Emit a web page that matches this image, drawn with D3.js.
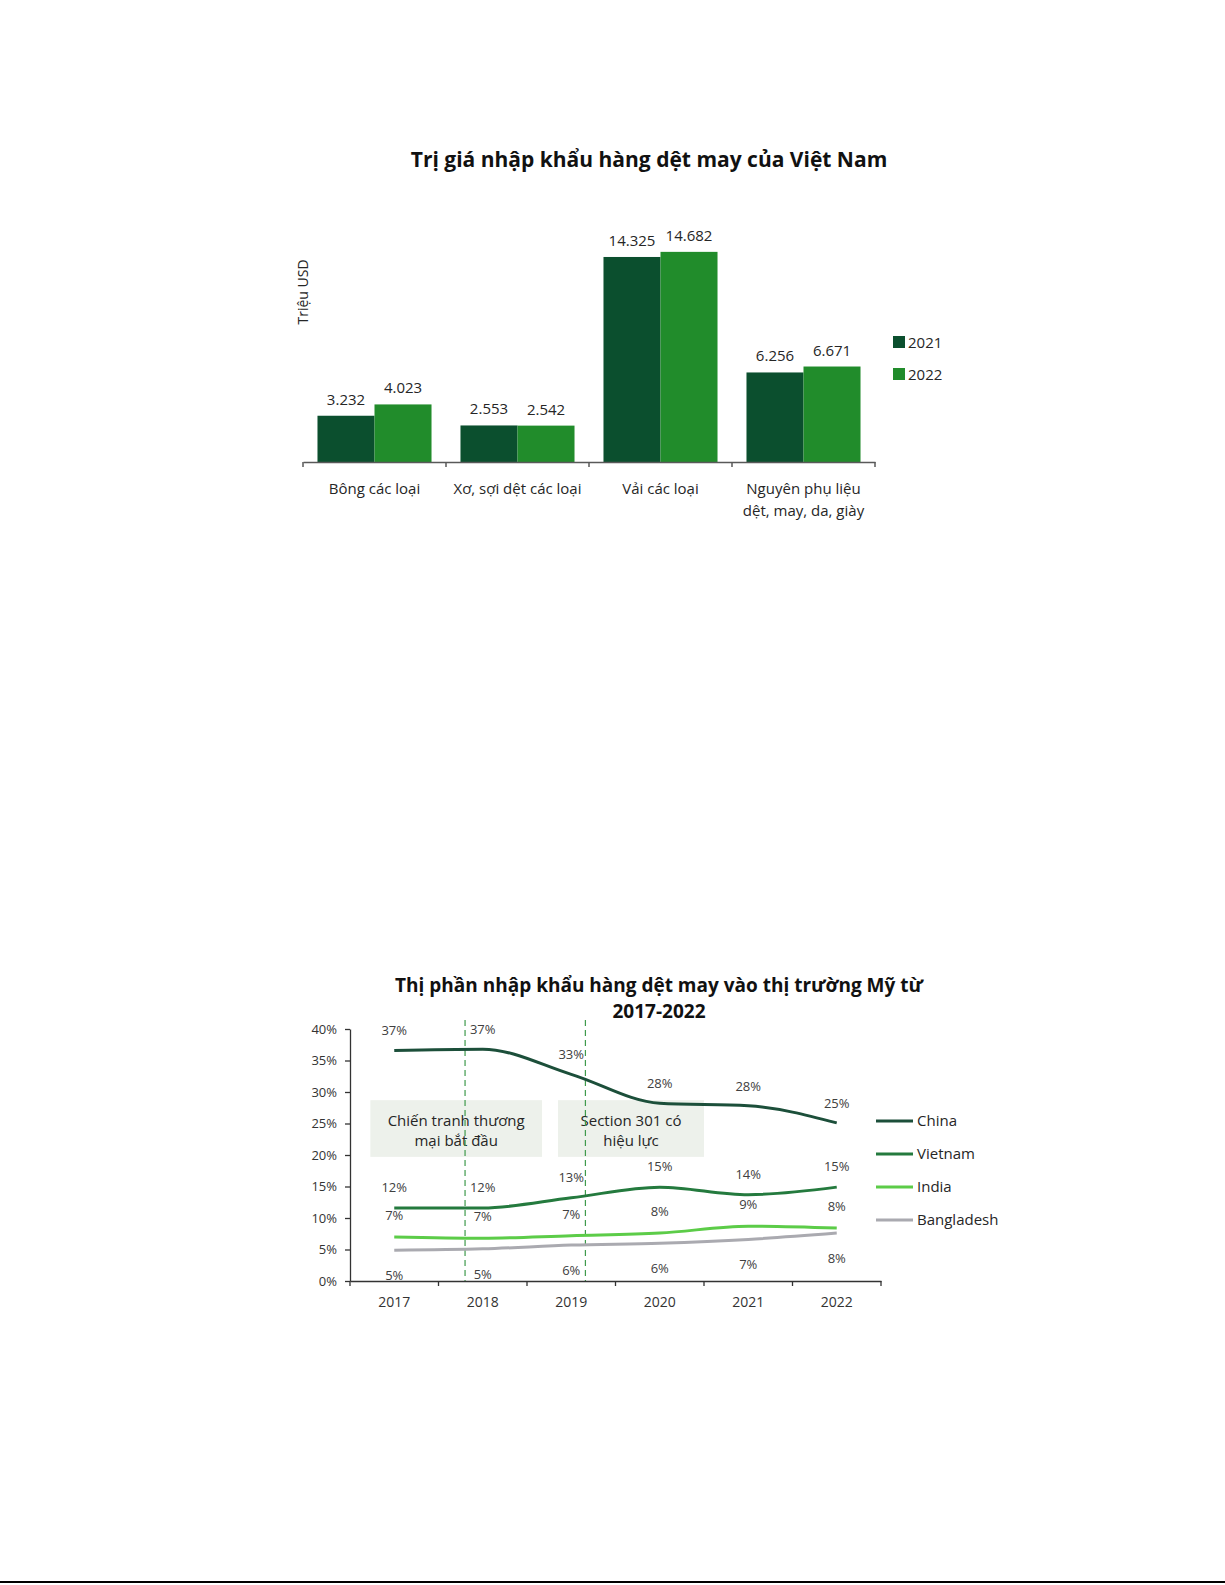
<!DOCTYPE html>
<html>
<head>
<meta charset="utf-8">
<script src="https://cdn.jsdelivr.net/npm/d3@7"></script>
<style>
  html, body { margin: 0; padding: 0; background: #fff; overflow: hidden; }
  svg { display: block; }
  svg text { font-family: "Open Sans", "Noto Sans", sans-serif; fill: #262626; }
</style>
</head>
<body>
<div id="graph"></div>
<script>
// chart 1 data
const categories = ["Bông các loại", "Xơ, sợi dệt các loại", "Vải các loại", "Nguyên phụ liệu\ndệt, may, da, giày"];
const barYears = ["2021", "2022"];
const values2021 = [3232, 2553, 14325, 6256];
const values2022 = [4023, 2542, 14682, 6671];

// chart 2 data
const shareYears = [2017, 2018, 2019, 2020, 2021, 2022];
const china = [36.6, 36.8, 32.8, 28.2, 27.8, 25.1];
const vietnam = [11.6, 11.6, 13.2, 14.9, 13.7, 14.9];
const india = [7.0, 6.8, 7.2, 7.6, 8.7, 8.4];
const bangladesh = [4.9, 5.1, 5.7, 6.0, 6.6, 7.6];
const shareTicks = [0, 5, 10, 15, 20, 25, 30, 35, 40];

const width = 1225;
const height = 1585;

const dark = "#0b4f2e";
const green = "#218c2b";

let vn = d3.formatLocale({ decimal: ",", thousands: ".", grouping: [3], currency: ["", ""] });
let formatDot = vn.format(",d");

let svg = d3.select('#graph')
  .append('svg')
  .attr('width', width)
  .attr('height', height);

// ---------- chart 1 : bars ----------
let bars = svg.append('g').attr('class', 'bar-chart');
let base1 = 462;

bars.append('text')
  .attr('x', 649)
  .attr('y', 167)
  .attr('text-anchor', 'middle')
  .style('font-weight', 'bold')
  .style('font-size', '21px')
  .style('fill', '#111')
  .text('Trị giá nhập khẩu hàng dệt may của Việt Nam');

let x0 = d3.scaleBand()
  .domain(categories)
  .range([303, 875]);

let x1 = d3.scaleBand()
  .domain(barYears)
  .range([0, x0.bandwidth()])
  .paddingOuter(0.254);

let y1 = d3.scaleLinear()
  .domain([0, 16000])
  .range([base1, base1 - 229]);

let barColor = d3.scaleOrdinal().domain(barYears).range([dark, green]);
let barRows = categories.map((c, i) => ({ cat: c, vals: [values2021[i], values2022[i]] }));

let group = bars.selectAll('.group').data(barRows)
  .enter()
  .append('g')
  .attr('class', 'group')
  .attr('transform', d => `translate(${x0(d.cat)},0)`);

group.selectAll('rect')
  .data(d => d.vals.map((v, j) => ({ year: barYears[j], value: v })))
  .enter()
  .append('rect')
  .attr('x', d => x1(d.year))
  .attr('y', d => y1(d.value))
  .attr('width', x1.bandwidth())
  .attr('height', d => base1 - y1(d.value))
  .attr('fill', d => barColor(d.year));

group.selectAll('.bar-label')
  .data(d => d.vals.map((v, j) => ({ year: barYears[j], value: v })))
  .enter()
  .append('text')
  .attr('class', 'bar-label')
  .attr('x', d => x1(d.year) + x1.bandwidth() / 2)
  .attr('y', d => y1(d.value) - 11)
  .attr('text-anchor', 'middle')
  .style('font-size', '15px')
  .text(d => formatDot(d.value));

// x axis
let xAxis1 = bars.append('g')
  .attr('transform', `translate(0, ${base1})`)
  .call(d3.axisBottom(x0).tickSize(0).tickFormat(''));
xAxis1.select('.domain').attr('stroke', '#595959').attr('stroke-width', 1.5);
xAxis1.selectAll('.bound')
  .data(categories.map(c => x0(c)).concat([x0.range()[1]]))
  .enter()
  .append('line')
  .attr('class', 'bound')
  .attr('x1', d => d).attr('x2', d => d)
  .attr('y1', 0).attr('y2', 5)
  .attr('stroke', '#595959')
  .attr('stroke-width', 1.5);

bars.selectAll('.cat-label')
  .data(categories)
  .enter()
  .append('text')
  .attr('class', 'cat-label')
  .attr('text-anchor', 'middle')
  .style('font-size', '15px')
  .each(function(d) {
    let t = d3.select(this);
    d.split('\n').forEach((line, k) => {
      t.append('tspan')
        .attr('x', x0(d) + x0.bandwidth() / 2)
        .attr('y', base1 + 32 + k * 22)
        .text(line);
    });
  });

// y title
bars.append('text')
  .attr('transform', 'translate(308, 292) rotate(-90)')
  .attr('text-anchor', 'middle')
  .style('font-size', '14px')
  .text('Triệu USD');

// legend
let legend1 = bars.append('g').attr('class', 'legend');
barYears.forEach((yr, i) => {
  legend1.append('rect')
    .attr('x', 893)
    .attr('y', 336 + i * 32)
    .attr('width', 12)
    .attr('height', 12)
    .attr('fill', barColor(yr));
  legend1.append('text')
    .attr('x', 908)
    .attr('y', 348 + i * 32)
    .style('font-size', '15px')
    .text(yr);
});

// ---------- chart 2 : lines ----------
let lines = svg.append('g').attr('class', 'line-chart');
let top2 = 1029, base2 = 1281;

lines.append('text')
  .attr('text-anchor', 'middle')
  .style('font-weight', 'bold')
  .style('font-size', '19px')
  .style('fill', '#111')
  .selectAll('tspan')
  .data(['Thị phần nhập khẩu hàng dệt may vào thị trường Mỹ từ', '2017-2022'])
  .enter()
  .append('tspan')
  .attr('x', 659)
  .attr('y', (d, i) => 992 + i * 26)
  .text(d => d);

let xs = d3.scaleBand()
  .domain(shareYears)
  .range([350, 881]);
let half = xs.bandwidth() / 2;
let xYear = d3.scaleLinear()
  .domain([2017, 2022])
  .range([xs(2017) + half, xs(2022) + half]);

let ys = d3.scaleLinear()
  .domain([0, 40])
  .range([base2, top2]);

// annotation boxes
const notes = [
  { from: 2016.73, to: 2018.67, text: ['Chiến tranh thương', 'mại bắt đầu'] },
  { from: 2018.85, to: 2020.5, text: ['Section 301 có', 'hiệu lực'] }
];
notes.forEach(n => {
  lines.append('rect')
    .attr('x', xYear(n.from))
    .attr('y', ys(28.7))
    .attr('width', xYear(n.to) - xYear(n.from))
    .attr('height', ys(19.7) - ys(28.7))
    .attr('fill', '#edf1eb');
  n.text.forEach((t, k) => {
    lines.append('text')
      .attr('x', (xYear(n.from) + xYear(n.to)) / 2)
      .attr('y', ys(28.7) + 26 + k * 20)
      .attr('text-anchor', 'middle')
      .style('font-size', '15px')
      .text(t);
  });
});

// event lines
const events = [2017.8, 2019.16];
lines.selectAll('.event')
  .data(events)
  .enter()
  .append('line')
  .attr('class', 'event')
  .attr('x1', d => xYear(d)).attr('x2', d => xYear(d))
  .attr('y1', top2 - 9).attr('y2', base2)
  .attr('stroke', '#3f9a4c')
  .attr('stroke-width', 1.2)
  .attr('stroke-dasharray', '6 4');

// axes
let yAxis2 = lines.append('g')
  .attr('transform', 'translate(350, 0)')
  .call(d3.axisLeft(ys).tickValues(shareTicks).tickFormat(d => d + '%').tickSize(5).tickSizeOuter(0).tickPadding(8));
yAxis2.selectAll('text').style('font-size', '13px').style('font-family', '"Open Sans", sans-serif').style('fill', '#333');
yAxis2.selectAll('line, path').attr('stroke', '#333').attr('stroke-width', 1.3);

let xAxis2 = lines.append('g')
  .attr('transform', `translate(0, ${base2})`)
  .call(d3.axisBottom(xs).tickSize(0).tickPadding(16).tickSizeOuter(0));
xAxis2.selectAll('text').style('font-size', '14px').style('font-family', '"Open Sans", sans-serif').style('fill', '#333');
xAxis2.select('.domain').attr('stroke', '#333').attr('stroke-width', 1.3);
xAxis2.selectAll('.bound')
  .data(shareYears.map(y => xs(y)).concat([xs.range()[1]]))
  .enter()
  .append('line')
  .attr('class', 'bound')
  .attr('x1', d => d).attr('x2', d => d)
  .attr('y1', 0).attr('y2', 5)
  .attr('stroke', '#333')
  .attr('stroke-width', 1.3);

// series
const series = [
  { name: 'China', values: china, color: '#1c4f3a', dy: -20 },
  { name: 'Vietnam', values: vietnam, color: '#247a3e', dy: -21 },
  { name: 'India', values: india, color: '#5ccc48', dy: -22 },
  { name: 'Bangladesh', values: bangladesh, color: '#aaaab0', dy: 25 }
];

let line = d3.line()
  .x((d, i) => xs(shareYears[i]) + half)
  .y(d => ys(d))
  .curve(d3.curveMonotoneX);

series.slice().reverse().forEach(s => {
  lines.append('path')
    .datum(s.values)
    .attr('fill', 'none')
    .attr('stroke', s.color)
    .attr('stroke-width', 3)
    .attr('d', line);
});

series.forEach(s => {
  lines.selectAll('.lbl-' + s.name)
    .data(s.values)
    .enter()
    .append('text')
    .attr('class', 'lbl-' + s.name)
    .attr('x', (d, i) => xs(shareYears[i]) + half)
    .attr('y', d => ys(d) + s.dy + 5)
    .attr('text-anchor', 'middle')
    .style('font-size', '13px')
    .style('fill', '#404040')
    .text(d => d3.format('.0f')(d) + '%');
});

// legend
let legend2 = lines.append('g').attr('class', 'legend');
series.forEach((s, i) => {
  legend2.append('line')
    .attr('x1', 876).attr('x2', 913)
    .attr('y1', 1121 + i * 33).attr('y2', 1121 + i * 33)
    .attr('stroke', s.color)
    .attr('stroke-width', 3);
  legend2.append('text')
    .attr('x', 917)
    .attr('y', 1126 + i * 33)
    .style('font-size', '15px')
    .text(s.name);
});

// page edge
svg.append('line')
  .attr('x1', 0).attr('x2', width)
  .attr('y1', 1582).attr('y2', 1582)
  .attr('stroke', '#000')
  .attr('stroke-width', 2);
</script>
</body>
</html>
